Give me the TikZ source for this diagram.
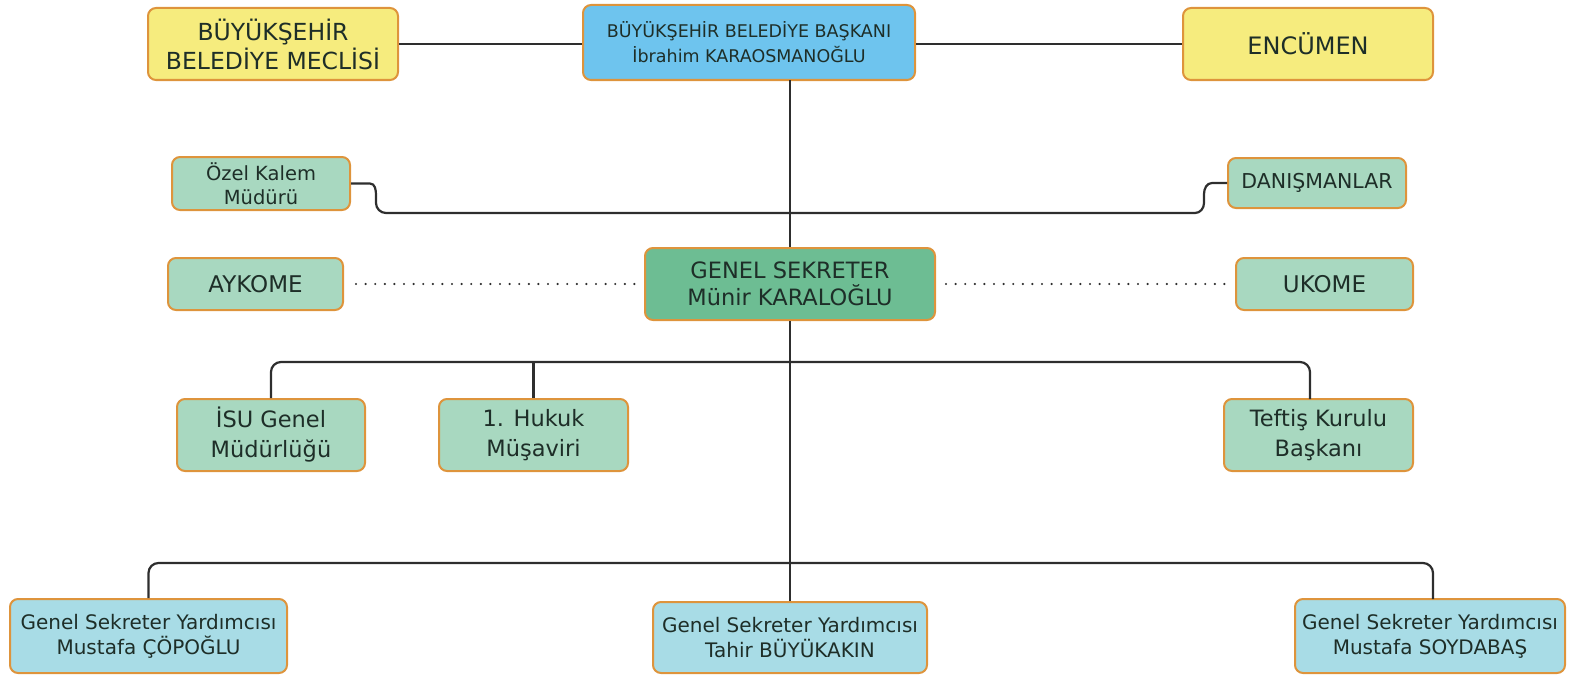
\documentclass[tikz,border=0pt]{standalone}
\usepackage{fontspec}
\setmainfont{DejaVu Sans}
\definecolor{yel}{HTML}{F6EC7E}
\definecolor{blu}{HTML}{6EC4EE}
\definecolor{grn}{HTML}{A8D8C0}
\definecolor{gsg}{HTML}{6DBD93}
\definecolor{cyn}{HTML}{A8DCE6}
\definecolor{brd}{HTML}{DE943C}
\definecolor{lin}{HTML}{2E2E2E}
\definecolor{txt}{HTML}{1E2E28}
\newcommand{\fs}[2]{\fontsize{#1}{#2}\selectfont}
\begin{document}
\begin{tikzpicture}[x=1pt,y=-1pt,
  box/.style={draw=brd,line width=2pt,rounded corners=8pt,inner sep=0pt,align=center,text=txt},
  conn/.style={draw=lin,line width=2.2pt},
  dots/.style={draw=lin,line width=2.4pt,line cap=round,dash pattern=on 0pt off 9.6pt}]
\useasboundingbox (0,0) rectangle (1574,677);
% top row
\node[box,font=\fs{23.5}{29},fill=yel,minimum width=250pt,minimum height=72pt] (mec) at (273,44) {BÜYÜKŞEHİR\\BELEDİYE MECLİSİ};
\node[box,font=\fs{17.5}{25},fill=blu,minimum width=332pt,minimum height=75pt] (bas) at (749,42.5) {BÜYÜKŞEHİR BELEDİYE BAŞKANI\\İbrahim KARAOSMANOĞLU};
\node[box,font=\fs{24}{29},fill=yel,minimum width=250pt,minimum height=72pt] (enc) at (1308,44) {ENCÜMEN};
% second row
\node[box,font=\fs{19.5}{24},fill=grn,minimum width=178pt,minimum height=53pt] (ozel) at (261,183.5) {Özel Kalem\\Müdürü};
\node[box,font=\fs{20.5}{24},fill=grn,minimum width=178pt,minimum height=50pt] (dan) at (1317,183) {DANIŞMANLAR};
% genel sekreter row
\node[box,font=\fs{22.5}{27},fill=gsg,minimum width=290pt,minimum height=72pt] (gs) at (790,284) {GENEL SEKRETER\\Münir KARALOĞLU};
\node[box,font=\fs{23}{27},fill=grn,minimum width=175pt,minimum height=52pt] (ayk) at (255.5,284) {AYKOME};
\node[box,font=\fs{23}{27},fill=grn,minimum width=177pt,minimum height=52pt] (uko) at (1324.5,284) {UKOME};
% third row
\node[box,font=\fs{22.5}{30},fill=grn,minimum width=188pt,minimum height=72pt] (isu) at (271,435) {İSU Genel\\Müdürlüğü};
\node[box,font=\fs{22.5}{30},fill=grn,minimum width=189pt,minimum height=72pt] (huk) at (533.5,435) {1. Hukuk\\Müşaviri};
\node[box,font=\fs{22.5}{30},fill=grn,minimum width=189pt,minimum height=72pt] (tef) at (1318.5,435) {Teftiş Kurulu\\Başkanı};
% bottom row
\node[box,font=\fs{20}{25},fill=cyn,minimum width=277pt,minimum height=74pt] (y1) at (148.5,636) {Genel Sekreter Yardımcısı\\Mustafa ÇÖPOĞLU};
\node[box,font=\fs{20}{25},fill=cyn,minimum width=274pt,minimum height=71pt] (y2) at (790,637.5) {Genel Sekreter Yardımcısı\\Tahir BÜYÜKAKIN};
\node[box,font=\fs{20}{25},fill=cyn,minimum width=270pt,minimum height=74pt] (y3) at (1430,636) {Genel Sekreter Yardımcısı\\Mustafa SOYDABAŞ};
% connectors
\draw[conn] (mec.east) -- (mec.east -| bas.west);
\draw[conn] (enc.west -| bas.east) -- (enc.west);
\coordinate (top) at (790,80);
\draw[conn] (top) -- (gs.north);
\draw[conn] (gs.south) -- (y2.north);
\draw[conn] (ozel.east) -- (370,183.5) to[out=0,in=90] (376,195) -- (376,203) to[out=-90,in=180] (386,213) -- (1195,213) to[out=0,in=-90] (1204,203) -- (1204,194) to[out=90,in=180] (1212,183) -- (dan.west);
\draw[conn,rounded corners=10pt] (isu.north) -- (271,362) -- (1310,362) -- (1310,399);
\draw[conn] (533.5,362) -- (huk.north);
\draw[conn,rounded corners=10pt] (y1.north) -- (148.5,563) -- (1433,563) -- (1433,599);
\draw[dots] ([xshift=12pt]ayk.east) -- ([xshift=-4pt]gs.west);
\draw[dots] ([xshift=10pt]gs.east) -- ([xshift=-6pt]uko.west);
\end{tikzpicture}
\end{document}
